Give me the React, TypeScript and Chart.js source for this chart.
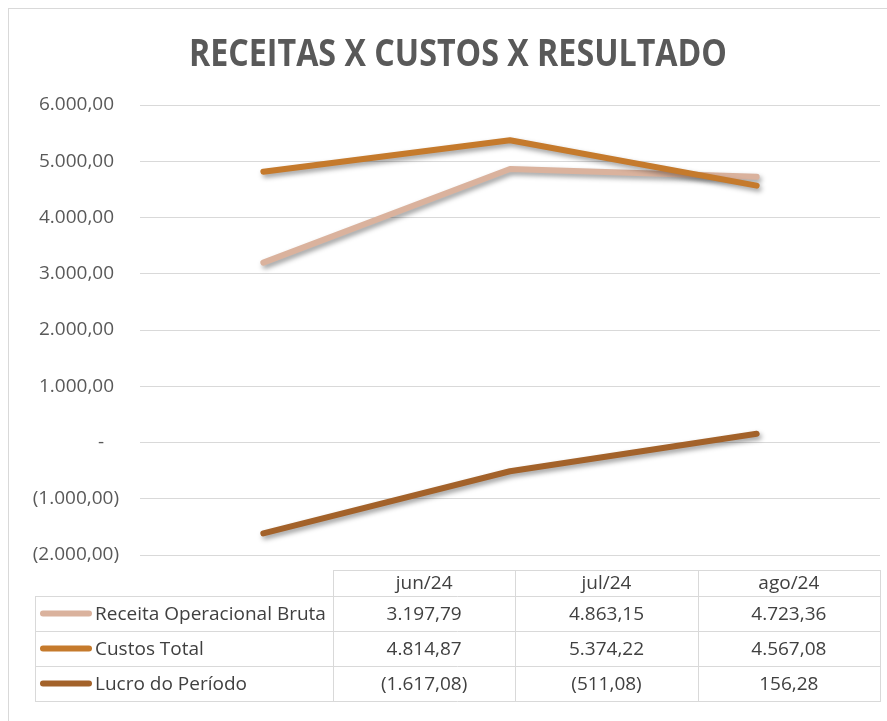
import React, { useEffect, useRef } from "react";
import { Chart, registerables } from "chart.js";

Chart.register(...registerables);

const TITLE = "RECEITAS X CUSTOS X RESULTADO";
const CATEGORIES = ["jun/24", "jul/24", "ago/24"];
const SERIES_NAMES = ["Receita Operacional Bruta", "Custos Total", "Lucro do Período"];
const RECEITA = [3197.79, 4863.15, 4723.36];
const CUSTOS = [4814.87, 5374.22, 4567.08];
const LUCRO = [-1617.08, -511.08, 156.28];
const SERIES_COLORS = ["#DAB29D", "#C57A2C", "#A3622A"];
const Y_MIN = -2000;
const Y_MAX = 6000;
const Y_STEP = 1000;

const FONT = "'Open Sans', 'Noto Sans', sans-serif";

function br(v: number): string {
  const s = Math.abs(v).toFixed(2);
  const [ip, dp] = s.split(".");
  const withSep = ip.replace(/\B(?=(\d{3})+(?!\d))/g, ".");
  return withSep + "," + dp;
}
function acct(v: number): string {
  if (v === 0) return "-";
  if (v < 0) return "(" + br(v) + ")";
  return br(v);
}
function tickFmt(v: number): string {
  if (v === 0) return "-   ";
  if (v < 0) return "(" + br(v) + ")";
  return br(v) + " ";
}

const SERIES = [RECEITA, CUSTOS, LUCRO];

const overlayPlugin = {
  id: "overlay",
  beforeDatasetsDraw(chart: any) {
    const ctx = chart.ctx;
    ctx.save();
    ctx.shadowColor = "rgba(0,0,0,0.38)";
    ctx.shadowBlur = 5;
    ctx.shadowOffsetX = 2;
    ctx.shadowOffsetY = 3;
  },
  afterDatasetsDraw(chart: any) {
    chart.ctx.restore();
  },
  afterDraw(chart: any) {
    const ctx = chart.ctx as CanvasRenderingContext2D;
    const ca = chart.chartArea;
    // Title
    ctx.save();
    ctx.font = `bold 37px ${FONT}`;
    ctx.fillStyle = "#595959";
    ctx.textAlign = "center";
    ctx.textBaseline = "alphabetic";
    const w = ctx.measureText(TITLE).width;
    const sx = 538 / w;
    ctx.translate(449, 57);
    ctx.scale(sx, 1);
    ctx.fillText(TITLE, 0, 0);
    ctx.restore();

    // Data table
    const left = 26;
    const labelRight = 324;
    const right = ca.right;
    const colW = (right - labelRight) / CATEGORIES.length;
    const headerTop = 561;
    const headerBottom = 587;
    const rowH = 35;
    const bottom = headerBottom + rowH * SERIES.length;

    ctx.save();
    ctx.strokeStyle = "#D9D9D9";
    ctx.lineWidth = 1;
    ctx.beginPath();
    ctx.moveTo(labelRight, headerTop + 0.5);
    ctx.lineTo(right, headerTop + 0.5);
    for (let r = 0; r <= SERIES.length; r++) {
      const y = headerBottom + r * rowH + 0.5;
      ctx.moveTo(left, y);
      ctx.lineTo(right, y);
    }
    ctx.moveTo(left + 0.5, headerBottom);
    ctx.lineTo(left + 0.5, bottom);
    for (let c = 0; c <= CATEGORIES.length; c++) {
      const x = Math.round(labelRight + c * colW) + 0.5;
      ctx.moveTo(x, headerTop);
      ctx.lineTo(x, bottom + 1);
    }
    ctx.stroke();

    ctx.font = `19px ${FONT}`;
    ctx.fillStyle = "#404040";
    ctx.textBaseline = "middle";
    ctx.textAlign = "center";
    CATEGORIES.forEach((cat, i) => {
      ctx.fillText(cat, labelRight + (i + 0.5) * colW, (headerTop + headerBottom) / 2 + 1);
    });
    SERIES.forEach((vals, r) => {
      const cy = headerBottom + (r + 0.5) * rowH + 1;
      vals.forEach((v, i) => {
        ctx.textAlign = "center";
        ctx.fillText(acct(v), labelRight + (i + 0.5) * colW, cy);
      });
      // legend swatch
      ctx.beginPath();
      ctx.strokeStyle = SERIES_COLORS[r];
      ctx.lineWidth = 6;
      ctx.lineCap = "round";
      ctx.moveTo(34, cy - 1);
      ctx.lineTo(80, cy - 1);
      ctx.stroke();
      ctx.textAlign = "left";
      ctx.fillText(SERIES_NAMES[r], 86, cy);
    });
    ctx.restore();
  },
};

export default function App() {
  const ref = useRef<HTMLCanvasElement | null>(null);
  useEffect(() => {
    if (!ref.current) return;
    const chart = new Chart(ref.current, {
      type: "line",
      data: {
        labels: CATEGORIES,
        datasets: SERIES.map((vals, i) => ({
          label: SERIES_NAMES[i],
          data: vals,
          borderColor: SERIES_COLORS[i],
          backgroundColor: SERIES_COLORS[i],
          borderWidth: 6,
          borderCapStyle: "round",
          borderJoinStyle: "round",
          pointRadius: 0,
          pointHoverRadius: 0,
          tension: 0,
          fill: false,
          order: 3 - i,
        })),
      },
      options: {
        responsive: false,
        animation: false,
        devicePixelRatio: 1,
        layout: { padding: { left: 0, right: 7, top: 96, bottom: 166 } },
        plugins: {
          legend: { display: false },
          title: { display: false },
          tooltip: { enabled: false },
        },
        scales: {
          x: {
            type: "category",
            display: false,
            offset: true,
          },
          y: {
            min: Y_MIN,
            max: Y_MAX,
            ticks: {
              stepSize: Y_STEP,
              padding: 21,
              color: "#595959",
              font: { family: FONT, size: 19 },
              callback: (v: any) => tickFmt(Number(v)),
            },
            grid: { color: "#D9D9D9", lineWidth: 1, drawTicks: false },
            border: { display: false },
            afterFit: (scale: any) => {
              scale.width = 131;
            },
          },
        },
      },
      plugins: [overlayPlugin],
    } as any);
    return () => chart.destroy();
  }, []);

  return (
    <div
      style={{
        position: "fixed",
        left: 8,
        top: 8,
        width: 879,
        height: 713,
        borderTop: "1px solid #D9D9D9",
        borderLeft: "1px solid #D9D9D9",
        background: "#fff",
        boxSizing: "border-box",
      }}
    >
      <canvas ref={ref} width={878} height={712} style={{ display: "block", width: 878, height: 712 }} />
    </div>
  );
}
